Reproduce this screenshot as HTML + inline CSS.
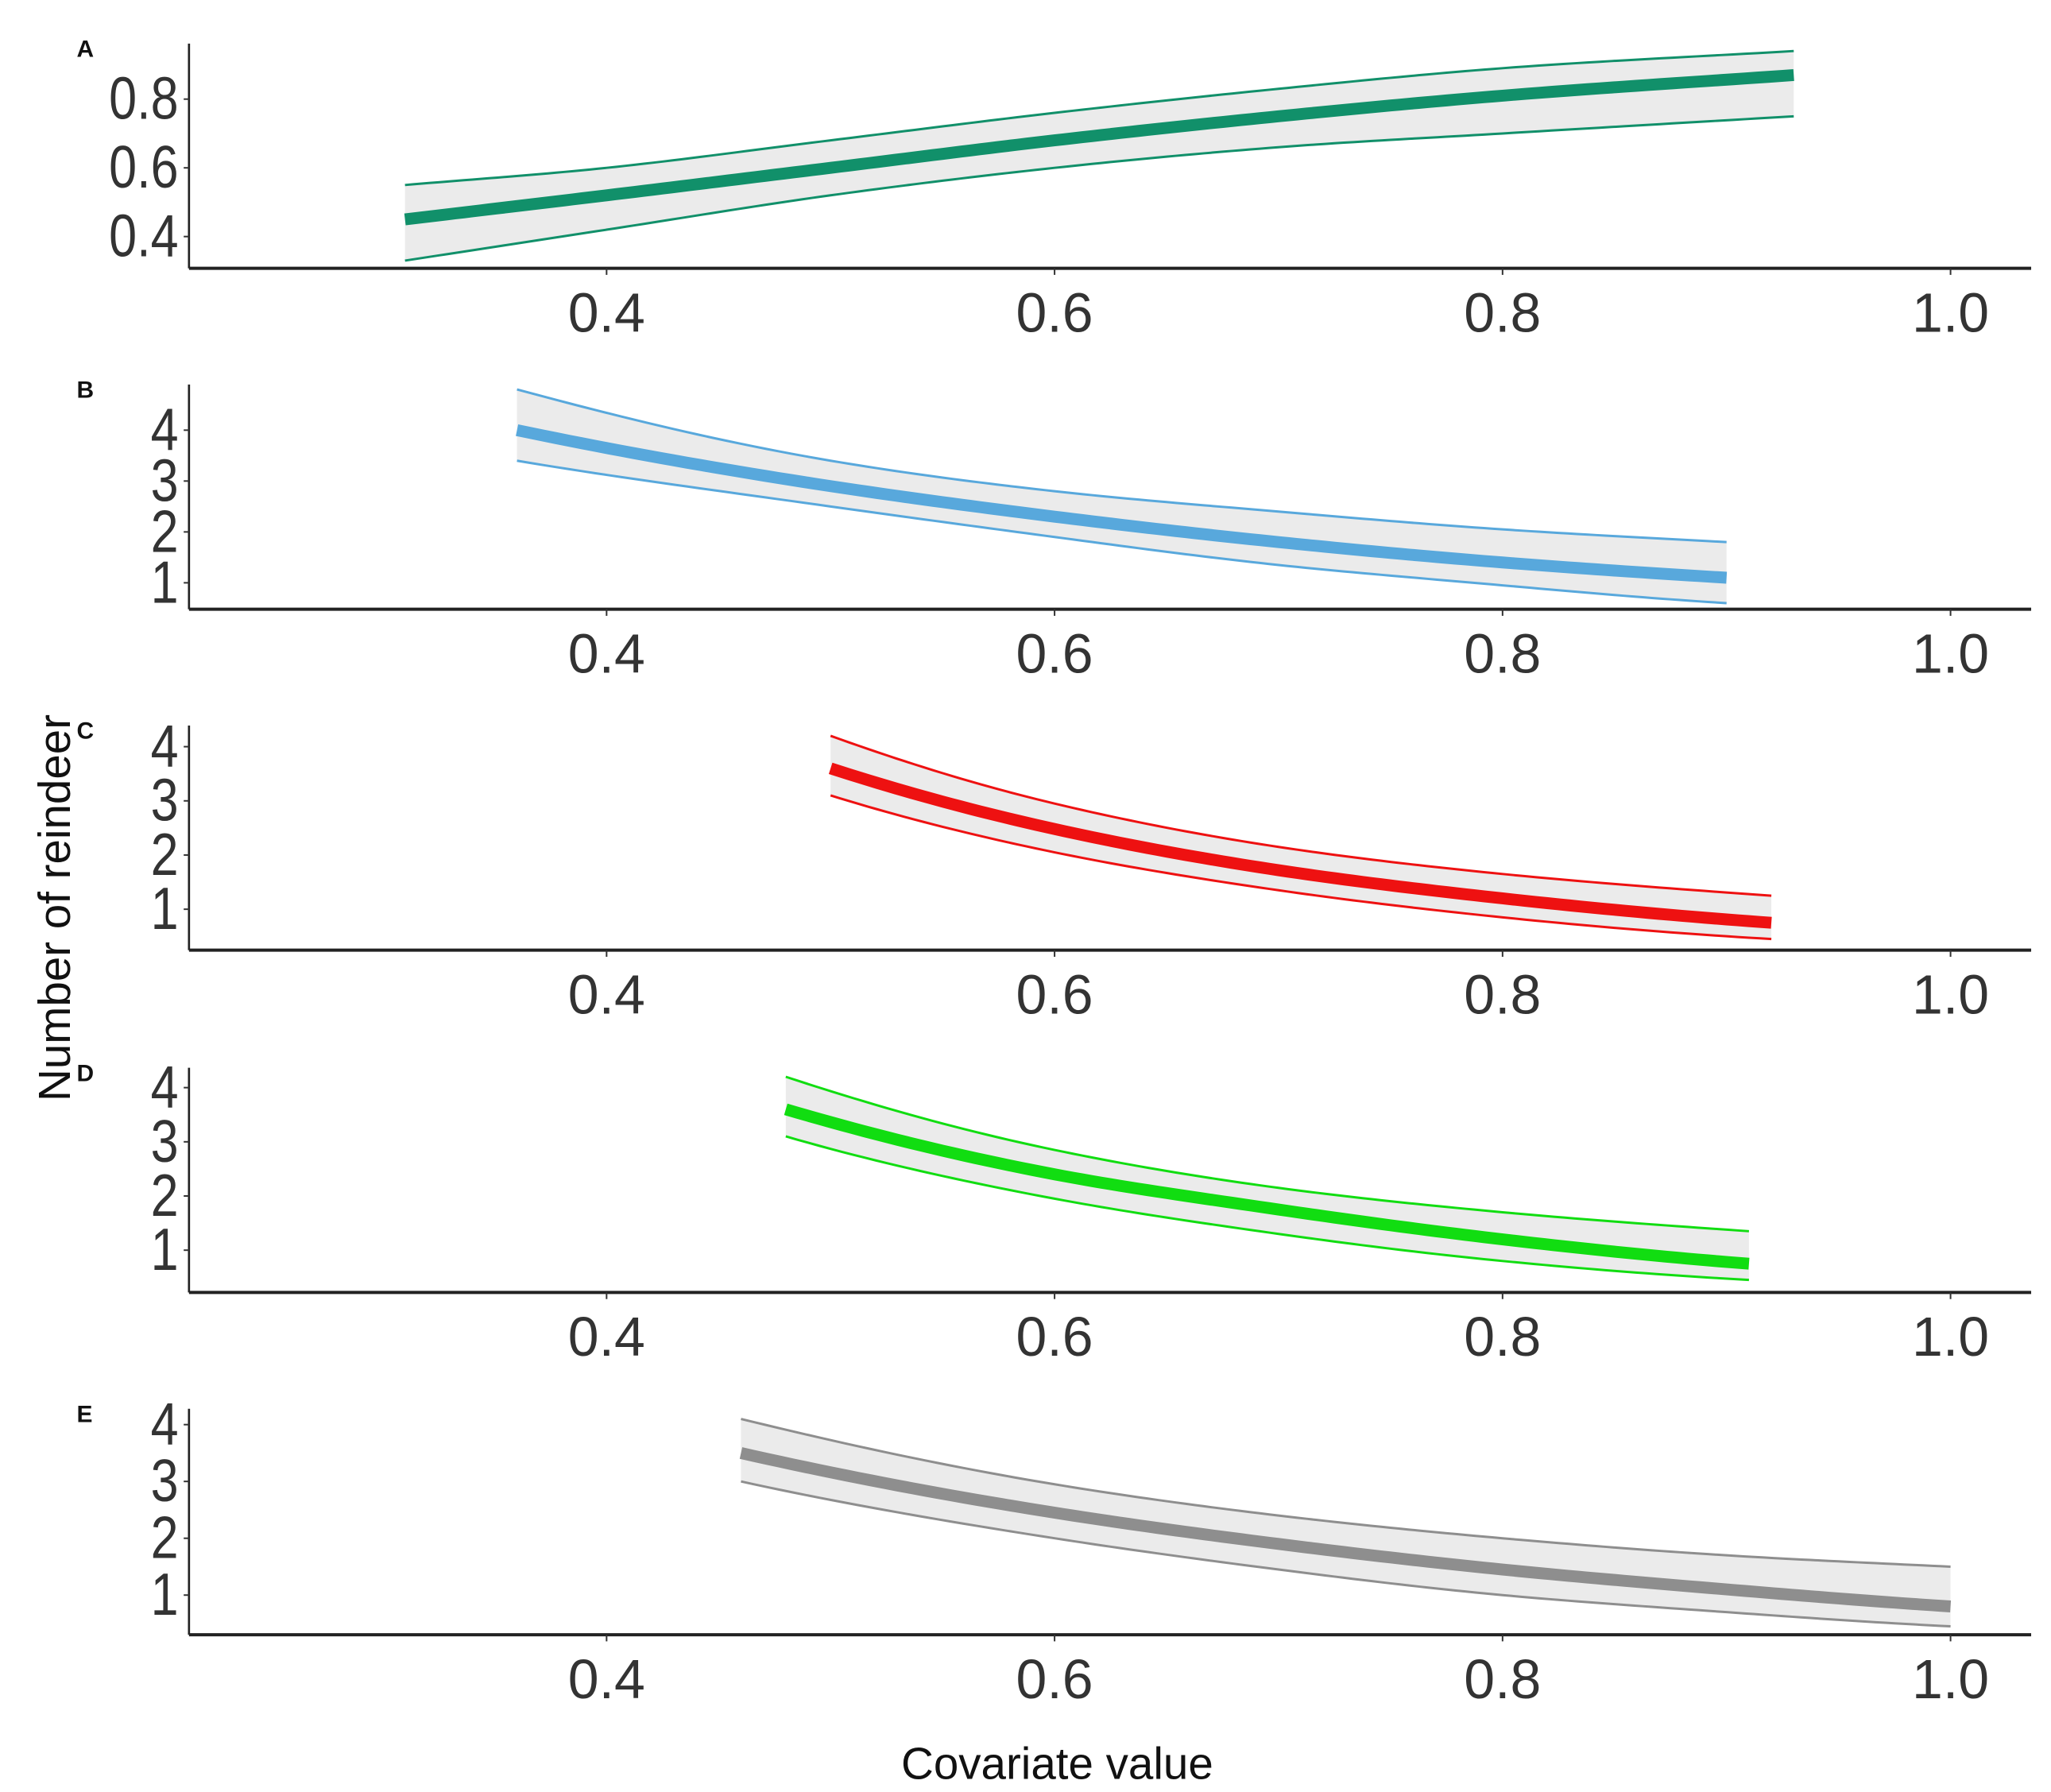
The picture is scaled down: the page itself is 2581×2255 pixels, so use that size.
<!DOCTYPE html>
<html><head><meta charset="utf-8"><style>
html,body{margin:0;padding:0;background:#fff;}
svg{display:block;}
text{font-family:"Liberation Sans",Arial,sans-serif;}
</style></head><body>
<svg id="chart" width="2581" height="2255" viewBox="0 0 1552 1356" xmlns="http://www.w3.org/2000/svg"></svg>
<script>
// ---- data ----
const xTicks = [0.4, 0.6, 0.8, 1.0];
const xTickLabels = ["0.4", "0.6", "0.8", "1.0"];
const panelLabels = ["A", "B", "C", "D", "E"];
const colors = ["#11906a", "#58a8dc", "#ee1111", "#11dd11", "#8e8e8e"];
const yTicksA = [0.4, 0.6, 0.8];
const yTicksOther = [1, 2, 3, 4];

const xA = [0.31, 0.4, 0.5, 0.6, 0.7, 0.8, 0.93];
const meanA = [0.45, 0.52, 0.60, 0.68, 0.75, 0.81, 0.87];
const upA = [0.55, 0.60, 0.68, 0.76, 0.83, 0.89, 0.94];
const loA = [0.33, 0.42, 0.52, 0.60, 0.66, 0.70, 0.75];

const xB = [0.36, 0.5, 0.6, 0.7, 0.8, 0.9];
const meanB = [4.0, 2.9, 2.3, 1.8, 1.4, 1.1];
const upB = [4.8, 3.4, 2.8, 2.4, 2.05, 1.8];
const loB = [3.4, 2.5, 1.9, 1.35, 0.95, 0.6];

const xC = [0.5, 0.6, 0.7, 0.8, 0.92];
const meanC = [3.6, 2.48, 1.72, 1.2, 0.75];
const upC = [4.2, 2.95, 2.15, 1.65, 1.25];
const loC = [3.1, 2.05, 1.35, 0.85, 0.45];

const xD = [0.48, 0.6, 0.7, 0.8, 0.91];
const meanD = [3.6, 2.4, 1.75, 1.2, 0.75];
const upD = [4.2, 2.85, 2.15, 1.7, 1.35];
const loD = [3.1, 1.95, 1.3, 0.8, 0.45];

const xE = [0.46, 0.6, 0.7, 0.8, 0.9, 1.0];
const meanE = [3.5, 2.45, 1.9, 1.45, 1.1, 0.8];
const upE = [4.1, 2.95, 2.4, 2.0, 1.7, 1.5];
const loE = [3.0, 2.0, 1.45, 1.0, 0.7, 0.45];

const series = [
  {x:xA, m:meanA, u:upA, l:loA, ticks:yTicksA, fmt:v=>v.toFixed(1), bottom:203, top:33, y0:0.4, py0:179, k:260, log:false},
  {x:xB, m:meanB, u:upB, l:loB, ticks:yTicksOther, fmt:v=>String(v), bottom:461, top:291, y0:1, py0:441, k:38.5, log:true},
  {x:xC, m:meanC, u:upC, l:loC, ticks:yTicksOther, fmt:v=>String(v), bottom:719, top:549, y0:1, py0:688, k:41, log:true},
  {x:xD, m:meanD, u:upD, l:loD, ticks:yTicksOther, fmt:v=>String(v), bottom:978, top:808, y0:1, py0:946, k:41, log:true},
  {x:xE, m:meanE, u:upE, l:loE, ticks:yTicksOther, fmt:v=>String(v), bottom:1237, top:1066, y0:1, py0:1207, k:43, log:true}
];

// ---- drawing ----
const svg = document.getElementById('chart');
const NS = "http://www.w3.org/2000/svg";
function mk(tag, attrs, parent){
  const e = document.createElementNS(NS, tag);
  for (const k in attrs) e.setAttribute(k, attrs[k]);
  (parent||svg).appendChild(e);
  return e;
}
const xScale = v => 459 + (v - 0.4) * 1695;
const AX = 143, AXR = 1537;

// monotone cubic (Fritsch-Carlson) interpolation, optionally in log space
function densify(xs, ysRaw, useLog){
  const ys = ysRaw.map(v => useLog ? Math.log(v) : v);
  const n = xs.length;
  const d = [], m = new Array(n);
  for (let i=0;i<n-1;i++) d.push((ys[i+1]-ys[i])/(xs[i+1]-xs[i]));
  m[0]=d[0]; m[n-1]=d[n-2];
  for (let i=1;i<n-1;i++) m[i] = (d[i-1]*d[i] <= 0) ? 0 : (d[i-1]+d[i])/2;
  const pts = [];
  for (let i=0;i<n-1;i++){
    const h = xs[i+1]-xs[i];
    for (let s=0;s<24;s++){
      const t=s/24, t2=t*t, t3=t2*t;
      const y = (2*t3-3*t2+1)*ys[i] + (t3-2*t2+t)*h*m[i] + (-2*t3+3*t2)*ys[i+1] + (t3-t2)*h*m[i+1];
      pts.push([xs[i]+t*h, useLog ? Math.exp(y) : y]);
    }
  }
  pts.push([xs[n-1], ysRaw[n-1]]);
  return pts;
}

series.forEach((s, i) => {
  const g = mk('g', {});
  
  
  const yScale = v => s.py0 - (v - s.y0) * s.k;
  const toPath = pts => pts.map((p,j)=>(j?'L':'M')+xScale(p[0]).toFixed(2)+','+yScale(p[1]).toFixed(2)).join(' ');
  const up = densify(s.x, s.u, s.log), lo = densify(s.x, s.l, s.log), me = densify(s.x, s.m, s.log);

  const rib = mk('path', {d: toPath(up) + ' ' + toPath(lo.slice().reverse()).replace('M','L') + ' Z', fill:'#ebebeb', stroke:'none'}, g);
  
  
  const ul = mk('path', {d: toPath(up), fill:'none', stroke:colors[i], 'stroke-width':1.8}, g);
  
  
  const ll = mk('path', {d: toPath(lo), fill:'none', stroke:colors[i], 'stroke-width':1.8}, g);
  
  
  const ml = mk('path', {d: toPath(me), fill:'none', stroke:colors[i], 'stroke-width':9}, g);
  
  

  const ya = mk('line', {x1:AX, y1:s.top, x2:AX, y2:s.bottom, stroke:'#222', 'stroke-width':1.6}, g);
  
  
  const xa = mk('line', {x1:AX, y1:s.bottom, x2:AXR, y2:s.bottom, stroke:'#222', 'stroke-width':2.4}, g);
  
  

  s.ticks.forEach(v => {
    const y = yScale(v);
    mk('line', {x1:AX-4, y1:y, x2:AX, y2:y, stroke:'#333', 'stroke-width':1.2}, g);
    const t = mk('text', {x:AX-8, y:y+15, 'font-size':42, fill:'#333', 'text-anchor':'end', transform:`translate(${AX-8},0) scale(0.9,1.08) translate(${-(AX-8)},0)`}, g);
    t.setAttribute('y', (y+15)/1.08);
    t.textContent = s.fmt(v);
    
    
  });
  xTicks.forEach((v, j) => {
    const x = xScale(v);
    mk('line', {x1:x, y1:s.bottom, x2:x, y2:s.bottom+5, stroke:'#333', 'stroke-width':1.2}, g);
    const t = mk('text', {x:x, y:s.bottom+48, 'font-size':42, fill:'#333', 'text-anchor':'middle'}, g);
    t.textContent = xTickLabels[j];
    
    
  });
  const pl = mk('text', {x:58, y:s.top+10, 'font-size':18, 'font-weight':'bold', fill:'#111'}, g);
  pl.textContent = panelLabels[i];
  
  
});

const yt = mk('text', {x:0, y:0, 'font-size':34, fill:'#111', 'text-anchor':'middle', transform:'translate(53,687) rotate(-90)'});
yt.textContent = 'Number of reindeer';


const xt = mk('text', {x:800, y:1346, 'font-size':34, fill:'#111', 'text-anchor':'middle'});
xt.textContent = 'Covariate value';


</script>
</body></html>
